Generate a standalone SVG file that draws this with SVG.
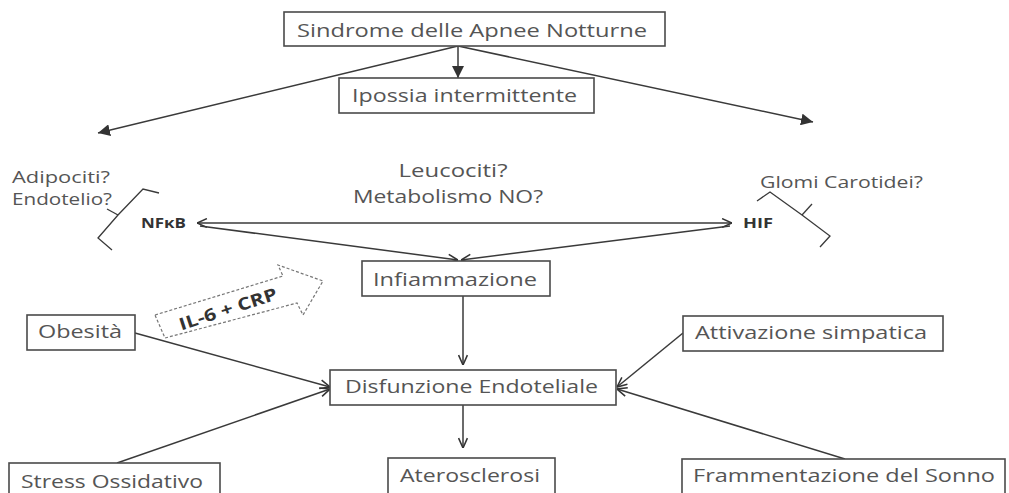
<svg xmlns="http://www.w3.org/2000/svg" width="1009" height="493" viewBox="0 0 1009 493">
<defs>
<style>
.box{fill:#fff;stroke:#4a4a4a;stroke-width:1.6}
.t{font-family:"Open Sans","Liberation Sans",sans-serif;font-size:19px;fill:#555}
.b{font-family:"Open Sans","Liberation Sans",sans-serif;font-size:14px;font-weight:bold;fill:#333}
.ln{fill:none;stroke:#3a3a3a;stroke-width:1.5}
.br{fill:none;stroke:#3a3a3a;stroke-width:1.3}
</style>
<marker id="fill" viewBox="0 0 10 10" refX="10" refY="5" markerWidth="12" markerHeight="12" markerUnits="userSpaceOnUse" orient="auto-start-reverse">
<path d="M0,0 L10,5 L0,10 z" fill="#333"/>
</marker>
<marker id="open" viewBox="0 0 10 10" refX="10" refY="5" markerWidth="11" markerHeight="11" markerUnits="userSpaceOnUse" orient="auto-start-reverse">
<path d="M1,1 L10,5 L1,9" fill="none" stroke="#333" stroke-width="1.4"/>
</marker>
</defs>
<rect width="1009" height="493" fill="#fff"/>

<g id="connectors">
<line class="ln" x1="458" y1="46" x2="458" y2="78" marker-end="url(#fill)"/>
<line class="ln" x1="458" y1="46" x2="98" y2="133" marker-end="url(#fill)"/>
<line class="ln" x1="458" y1="46" x2="813" y2="122" marker-end="url(#fill)"/>
<line class="ln" x1="197" y1="223" x2="732" y2="223" marker-start="url(#open)" marker-end="url(#open)"/>
<line class="ln" x1="200" y1="226" x2="458" y2="260" marker-end="url(#open)"/>
<line class="ln" x1="730" y1="226" x2="461" y2="260" marker-end="url(#open)"/>
<line class="ln" x1="463" y1="296" x2="463" y2="365" marker-end="url(#open)"/>
<line class="ln" x1="463" y1="405" x2="463" y2="448" marker-end="url(#open)"/>
<line class="ln" x1="135" y1="333" x2="330" y2="387" marker-end="url(#open)"/>
<line class="ln" x1="117" y1="463" x2="330" y2="389" marker-end="url(#open)"/>
<line class="ln" x1="683" y1="333" x2="617" y2="387" marker-end="url(#open)"/>
<line class="ln" x1="845" y1="459" x2="617" y2="389" marker-end="url(#open)"/>
</g>

<g id="sindrome">
<rect class="box" x="284" y="12" width="381" height="34"/>
<text class="t" x="297" y="37" textLength="350" lengthAdjust="spacingAndGlyphs">Sindrome delle Apnee Notturne</text>
</g>
<g id="ipossia">
<rect class="box" x="339" y="78" width="255" height="35"/>
<text class="t" x="352" y="102" textLength="225" lengthAdjust="spacingAndGlyphs">Ipossia intermittente</text>
</g>

<g id="adipociti">
<text class="t" x="12" y="183" textLength="98" lengthAdjust="spacingAndGlyphs" style="font-size:17px">Adipociti?</text>
<text class="t" x="12" y="205" textLength="100" lengthAdjust="spacingAndGlyphs" style="font-size:17px">Endotelio?</text>
<polyline class="br" points="159,193 143,189 118,215 98,238 112,250"/>
<line class="br" x1="118" y1="215" x2="107" y2="209"/>
</g>
<g id="nfkb">
<text class="b" x="141" y="228" textLength="45" lengthAdjust="spacingAndGlyphs">NFκB</text>
</g>
<g id="leucociti">
<text class="t" x="453" y="177" text-anchor="middle" textLength="109" lengthAdjust="spacingAndGlyphs">Leucociti?</text>
<text class="t" x="448" y="203" text-anchor="middle" textLength="190" lengthAdjust="spacingAndGlyphs">Metabolismo NO?</text>
</g>
<g id="hif">
<text class="b" x="743" y="228" textLength="30" lengthAdjust="spacingAndGlyphs">HIF</text>
</g>
<g id="glomi">
<text class="t" x="760" y="188" textLength="163" lengthAdjust="spacingAndGlyphs" style="font-size:17px">Glomi Carotidei?</text>
<polyline class="br" points="757,201 770,192 802,215 830,236 820,247"/>
<line class="br" x1="802" y1="215" x2="812" y2="204"/>
</g>

<g id="il6crp">
<polygon points="155,315 283,276 278,265 323,281 303,315 297,303 165,338" fill="#fff" stroke="#777" stroke-width="1.2" stroke-dasharray="3,2"/>
<text class="b" x="228" y="315" text-anchor="middle" transform="rotate(-18 228 309)" textLength="102" lengthAdjust="spacingAndGlyphs" style="font-size:17px">IL-6 + CRP</text>
</g>

<g id="infiammazione">
<rect class="box" x="362" y="261" width="188" height="35"/>
<text class="t" x="373" y="286" textLength="164" lengthAdjust="spacingAndGlyphs">Infiammazione</text>
</g>
<g id="obesita">
<rect class="box" x="27" y="315" width="108" height="35"/>
<text class="t" x="38" y="338" textLength="84" lengthAdjust="spacingAndGlyphs">Obesità</text>
</g>
<g id="attivazione">
<rect class="box" x="683" y="316" width="260" height="35"/>
<text class="t" x="695" y="339" textLength="232" lengthAdjust="spacingAndGlyphs">Attivazione simpatica</text>
</g>
<g id="disfunzione">
<rect class="box" x="330" y="370" width="286" height="35"/>
<text class="t" x="345" y="393" textLength="253" lengthAdjust="spacingAndGlyphs">Disfunzione Endoteliale</text>
</g>
<g id="aterosclerosi">
<rect class="box" x="388" y="458" width="167" height="45"/>
<text class="t" x="400" y="482" textLength="140" lengthAdjust="spacingAndGlyphs">Aterosclerosi</text>
</g>
<g id="stress">
<rect class="box" x="9" y="463" width="211" height="40"/>
<text class="t" x="21" y="488" textLength="182" lengthAdjust="spacingAndGlyphs">Stress Ossidativo</text>
</g>
<g id="frammentazione">
<rect class="box" x="682" y="459" width="323" height="44"/>
<text class="t" x="693" y="482" textLength="302" lengthAdjust="spacingAndGlyphs">Frammentazione del Sonno</text>
</g>
</svg>
